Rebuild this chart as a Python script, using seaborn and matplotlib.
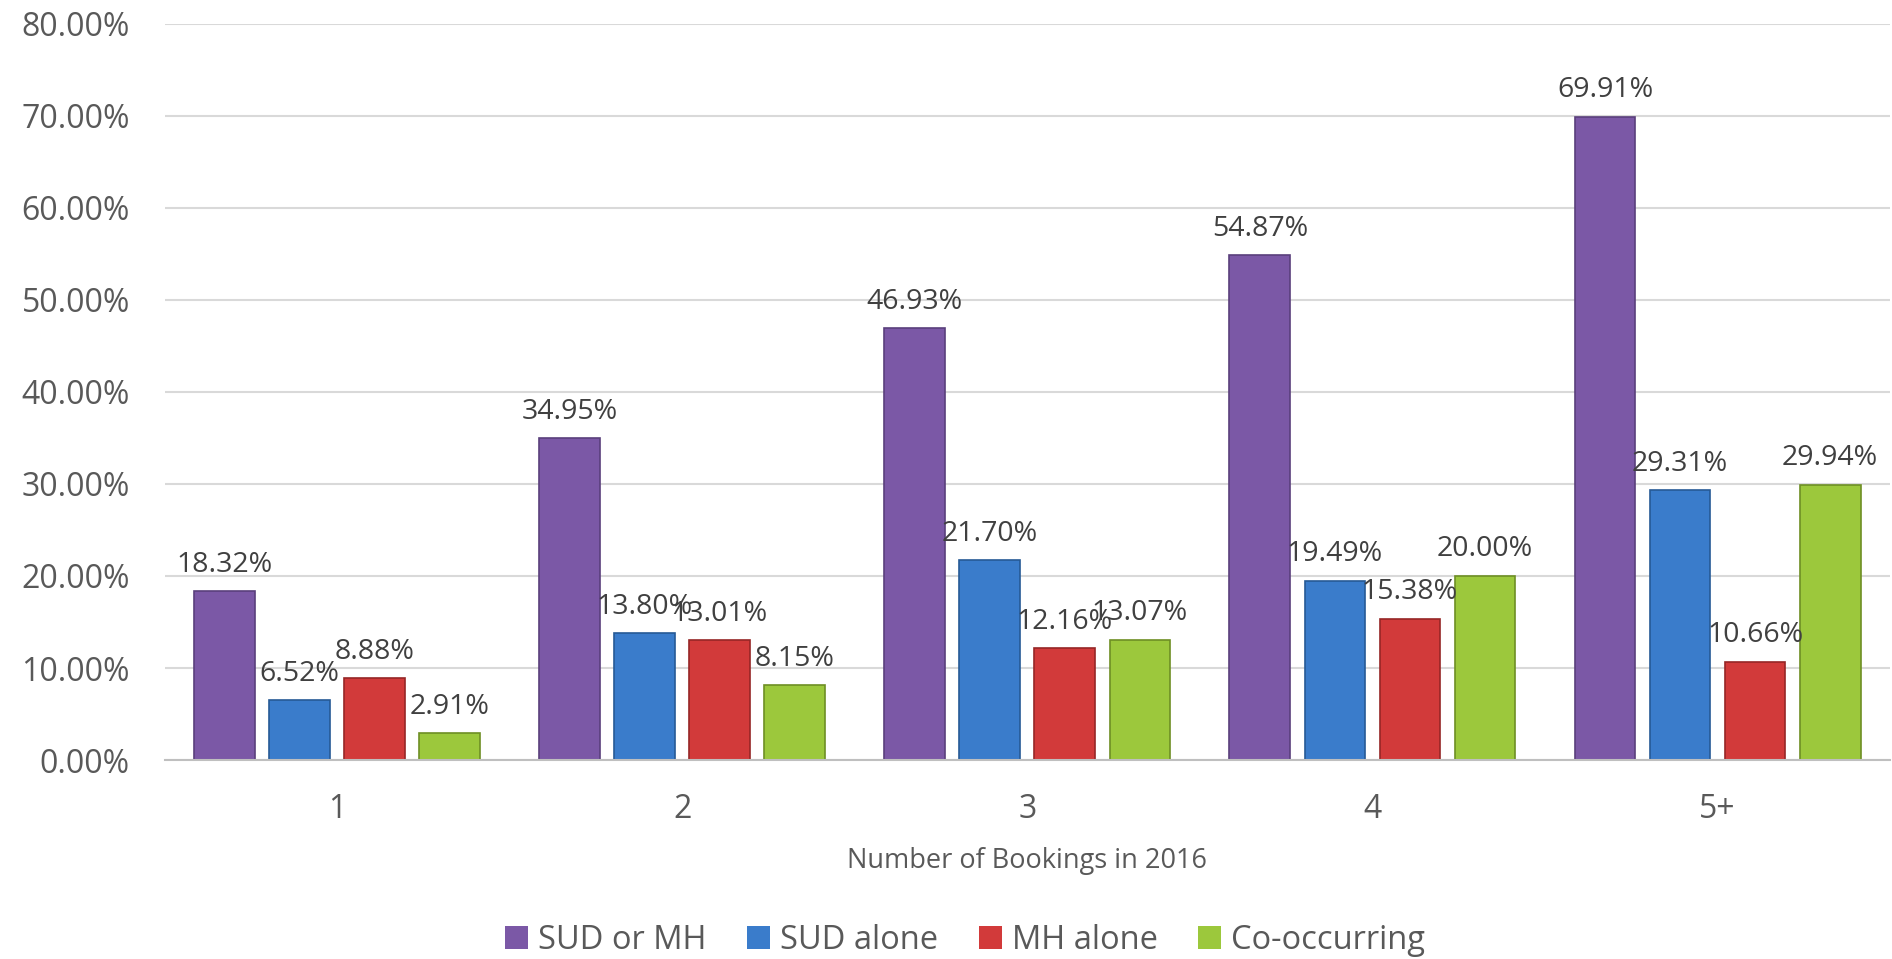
import numpy as np
import pandas as pd
import matplotlib.pyplot as plt
import seaborn as sns
from matplotlib.ticker import PercentFormatter

# Data
bookings = ['1', '2', '3', '4', '5+']
series = ['SUD or MH', 'SUD alone', 'MH alone', 'Co-occurring']
sud_or_mh = [18.32, 34.95, 46.93, 54.87, 69.91]
sud_alone = [6.52, 13.80, 21.70, 19.49, 29.31]
mh_alone = [8.88, 13.01, 12.16, 15.38, 10.66]
co_occurring = [2.91, 8.15, 13.07, 20.00, 29.94]

colors = ['#7B58A6', '#3A7CCB', '#D23A3A', '#9CC83C']
edges = ['#5A3F7C', '#265A96', '#962626', '#6E8F24']

df = pd.DataFrame({
    'Bookings': bookings * 4,
    'Series': np.repeat(series, len(bookings)),
    'Value': sud_or_mh + sud_alone + mh_alone + co_occurring,
})

sns.set_style('white')
plt.rcParams['font.family'] = ['Open Sans', 'DejaVu Sans']

fig = plt.figure(figsize=(18.92, 9.59), dpi=100)
ax = fig.add_axes([0.087, 0.2075, 0.912, 0.7675])

sns.barplot(data=df, x='Bookings', y='Value', hue='Series', order=bookings,
            hue_order=series, palette=colors, saturation=1, width=0.87, gap=0.19,
            edgecolor='none', ax=ax, legend=True)

for cont, ec in zip(ax.containers, edges):
    for patch in cont:
        patch.set_edgecolor(ec)
        patch.set_linewidth(1.2)
    ax.bar_label(cont, labels=[f'{v:.2f}%' for v in cont.datavalues],
                 padding=9, fontsize=20.5, color='#404040')

ax.set_ylim(0, 80)
ax.set_yticks(np.arange(0, 81, 10))
ax.yaxis.set_major_formatter(PercentFormatter(decimals=2))
ax.set_xlim(-0.5, 4.5)
ax.grid(axis='y', color='#D9D9D9', linewidth=1.5)
ax.set_axisbelow(True)
for s in ['top', 'right', 'left']:
    ax.spines[s].set_visible(False)
ax.spines['bottom'].set_color('#BFBFBF')
ax.spines['bottom'].set_linewidth(1.5)
ax.tick_params(axis='y', length=0, pad=25, labelsize=23, labelcolor='#595959')
ax.tick_params(axis='x', length=0, pad=24, labelsize=23, labelcolor='#595959')
ax.set_ylabel('')
ax.set_xlabel('Number of Bookings in 2016', fontsize=19.5, color='#595959', labelpad=15)

handles, labels = ax.get_legend_handles_labels()
ax.legend(handles, labels, loc='center', bbox_to_anchor=(0.464, -0.245),
          ncol=4, frameon=False, fontsize=23.5, handlelength=0.7, handleheight=0.7,
          handletextpad=0.3, columnspacing=1.25, labelcolor='#595959')

plt.savefig('out.png', dpi=100)
